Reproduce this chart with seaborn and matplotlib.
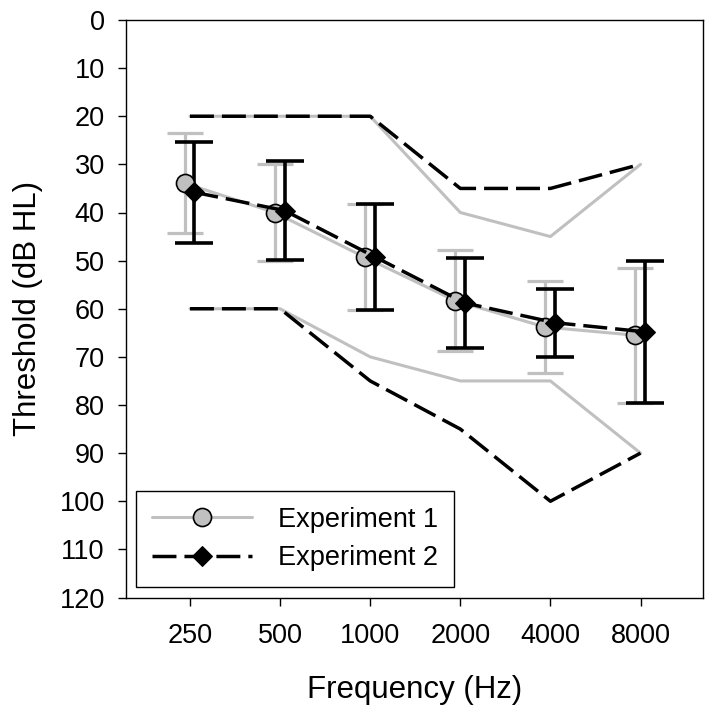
# %% load modules

import matplotlib.pyplot as plt
import numpy as np
import pandas as pd
import seaborn as sns

# %% values

freqs = [250, 500, 1000, 2000, 4000, 8000]
freq_labels = ["250", "500", "1000", "2000", "4000", "8000"]

exp1_mean = [33.9, 40.0, 49.3, 58.3, 63.8, 65.5]
exp1_err = [10.4, 10.0, 11.0, 10.5, 9.5, 14.0]
exp2_mean = [35.8, 39.6, 49.2, 58.8, 62.9, 64.8]
exp2_err = [10.5, 10.3, 11.0, 9.3, 7.1, 14.8]

exp1_best = [20, 20, 20, 40, 45, 30]
exp1_worst = [60, 60, 70, 75, 75, 90]
exp2_best = [20, 20, 20, 35, 35, 30]
exp2_worst = [60, 60, 75, 85, 100, 90]

# %% build frames

octave = np.log2(np.array(freqs) / 250)
df1 = pd.DataFrame({"x": octave - 0.06, "mean": exp1_mean, "err": exp1_err})
df2 = pd.DataFrame({"x": octave + 0.05, "mean": exp2_mean, "err": exp2_err})
rng = pd.DataFrame({
    "x": octave,
    "best1": exp1_best,
    "worst1": exp1_worst,
    "best2": exp2_best,
    "worst2": exp2_worst,
})

# %% plot

sns.set_style("ticks")
plt.rcParams["font.family"] = ["Liberation Sans", "DejaVu Sans"]
plt.rcParams["text.color"] = "black"
plt.rcParams["axes.labelcolor"] = "black"

gray = "#c0c0c0"
dash = (0, (6.9, 2.3))

fig = plt.figure(figsize=(7.14, 7.15), dpi=100)
ax = fig.add_axes([126 / 714, 1 - 597.5 / 715, 576.7 / 714, 577.5 / 715])

for col in ["best1", "worst1"]:
    sns.lineplot(data=rng, x="x", y=col, color=gray, lw=2.2, ax=ax, zorder=2)
for col in ["best2", "worst2"]:
    sns.lineplot(data=rng, x="x", y=col, color="black", lw=2.5,
                 linestyle=dash, ax=ax, zorder=2.5)

ax.errorbar(df1["x"], df1["mean"], yerr=df1["err"], fmt="none", ecolor=gray,
            elinewidth=2.3, capsize=13, capthick=2.3, zorder=3)
ax.errorbar(df2["x"], df2["mean"], yerr=df2["err"], fmt="none", ecolor="black",
            elinewidth=2.6, capsize=14, capthick=2.6, zorder=4)

sns.lineplot(data=df1, x="x", y="mean", color=gray, lw=2.2, marker="o",
             markersize=13, markerfacecolor=gray, markeredgecolor="black",
             markeredgewidth=1.2, label="Experiment 1", ax=ax, zorder=5)
sns.lineplot(data=df2, x="x", y="mean", color="black", lw=2.5, linestyle=dash,
             marker="D", markersize=10.5, markerfacecolor="black",
             markeredgecolor="black", label="Experiment 2", ax=ax, zorder=6)

ax.set_xlim(-0.71, 5.69)
ax.set_ylim(120, 0)
ax.set_xticks(octave)
ax.set_xticklabels(freq_labels)
ax.set_yticks(np.arange(0, 121, 10))
ax.tick_params(direction="out", length=5.8, width=1, labelsize=19.5,
               colors="black")
ax.tick_params(axis="x", pad=12.5)
ax.tick_params(axis="y", pad=9.5)
for s in ax.spines.values():
    s.set_linewidth(1)
    s.set_color("black")

ax.set_xlabel("Frequency (Hz)", fontsize=22.5, labelpad=19)
ax.set_ylabel("Threshold (dB HL)", fontsize=22.5, labelpad=12)

leg = ax.legend(loc="lower left", bbox_to_anchor=(0.0168, 0.0177),
                borderaxespad=0, fontsize=19.5, frameon=True, fancybox=False,
                edgecolor="black", framealpha=1, handlelength=3.7,
                handletextpad=0.95, labelspacing=0.45, borderpad=0.6)
leg.get_frame().set_linewidth(1)
for t in leg.get_texts():
    t.set_color("black")

fig.savefig("out.png", facecolor="w", dpi=100)
